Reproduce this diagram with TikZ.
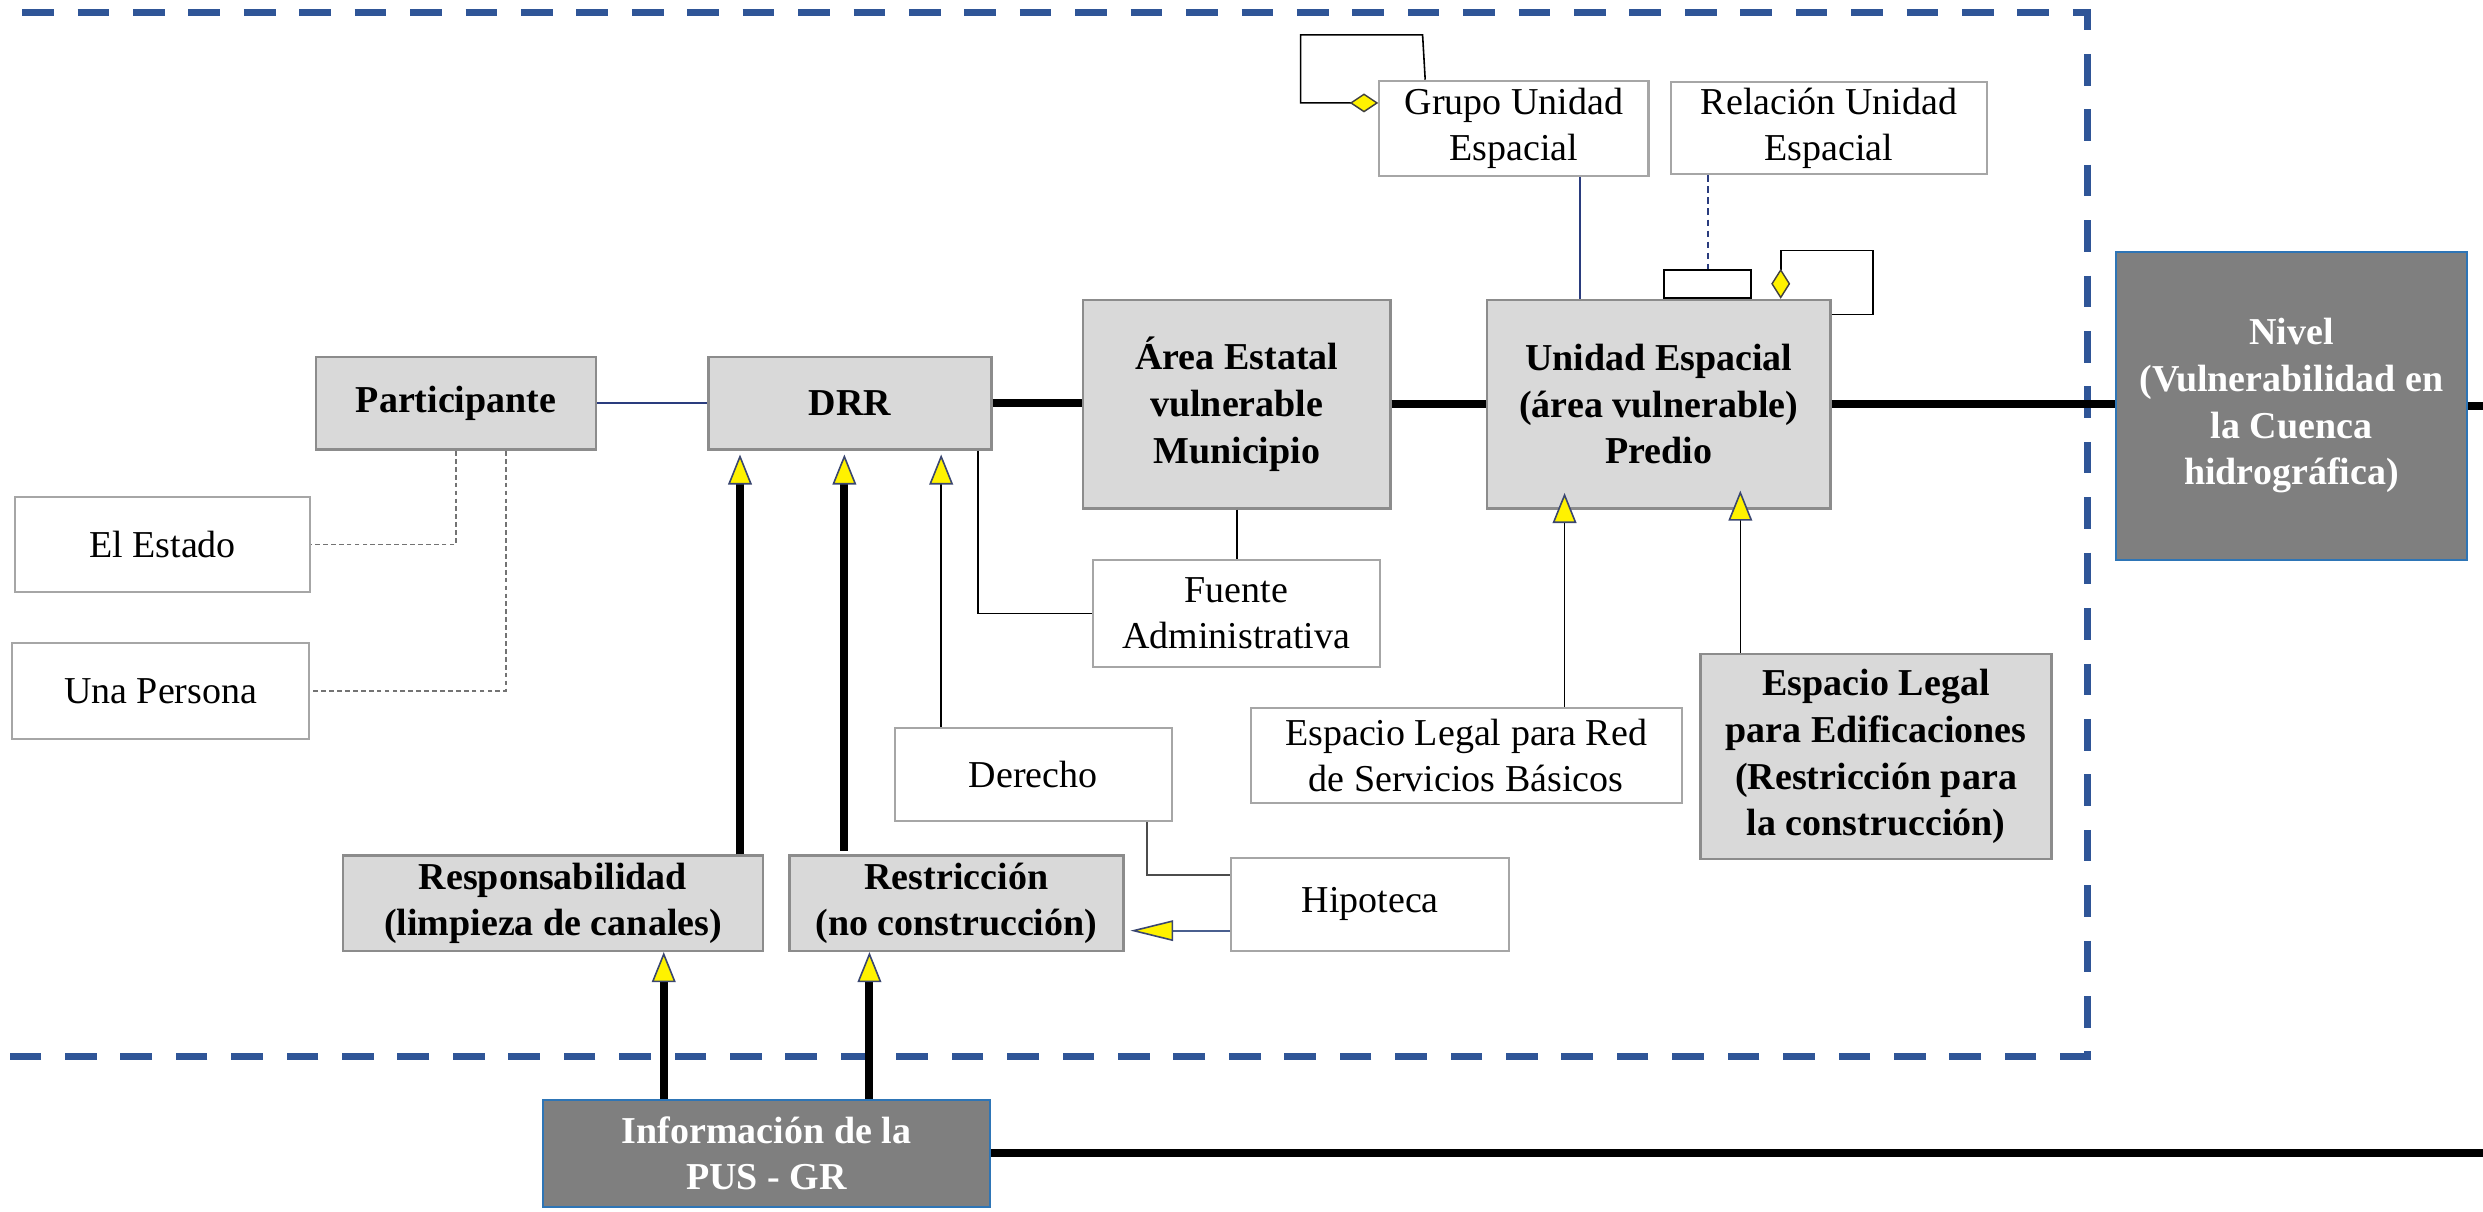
\documentclass[tikz,border=0pt]{standalone}
\usepackage{fontspec}
\setmainfont{Liberation Serif}
\usetikzlibrary{arrows.meta}
\definecolor{bordblue}{HTML}{2F5597}
\definecolor{boxgray}{HTML}{D9D9D9}
\definecolor{boxedge}{HTML}{8C8C8C}
\definecolor{whiteedge}{HTML}{A6A6A6}
\definecolor{darkfill}{HTML}{7F7F7F}
\definecolor{darkedge}{HTML}{2E75B6}
\definecolor{navyline}{HTML}{2A3C7E}
\definecolor{slateline}{HTML}{4A5F8F}
\definecolor{tricol}{HTML}{3A4670}
\begin{document}
\begin{tikzpicture}[x=1pt,y=-1pt,
  txt/.style={font=\fontsize{24}{29.5}\selectfont, align=center, inner sep=2pt},
  whitebox/.style={txt, draw=whiteedge, fill=white, line width=1.3pt},
  graybox/.style={txt, draw=boxedge, fill=boxgray, line width=1.6pt, font=\fontsize{24}{29.5}\selectfont\bfseries},
  darkbox/.style={txt, draw=darkedge, fill=darkfill, text=white, line width=1.3pt, font=\fontsize{24}{29.5}\selectfont\bfseries},
  smallbox/.style={draw=black, fill=white, line width=1.2pt, inner sep=0pt},
  thickline/.style={line width=5pt, black},
  thinblack/.style={line width=1pt, black},
  darkthin/.style={line width=1.2pt, black!70},
  bluethin/.style={line width=1.2pt, navyline},
  slatethin/.style={line width=1.4pt, slateline},
  graydash/.style={line width=1pt, black!55, dash pattern=on 3pt off 2pt},
  bordline/.style={line width=4.5pt, bordblue, dash pattern=on 20pt off 15pt},
  triarrow/.style={-{Triangle[length=19pt,width=15pt,fill=yellow,color=tricol,line width=1pt]}},
  triarrowh/.style={-{Triangle[length=27pt,width=13pt,fill=yellow,color=tricol,line width=1pt]}},
  diamtip/.style={{Diamond[length=18pt,width=12pt,fill=yellow,color=black!75,line width=0.9pt]}-},
  diamtipv/.style={{Diamond[length=19pt,width=12pt,fill=yellow,color=black!75,line width=0.9pt]}-},
]
\useasboundingbox (0,0) rectangle (1568,765);

% dashed frame
\draw[bordline] (14,8) -- (1318,8) -- (1318,667) -- (0,667);

% nodes
\node[whitebox,minimum width=170pt,minimum height=60pt] (grupo) at (956,81) {Grupo Unidad\\Espacial};
\node[whitebox,minimum width=200pt,minimum height=58pt] (rel) at (1155,81) {Relación Unidad\\Espacial};
\node[graybox,minimum width=217pt,minimum height=131.5pt] (unidad) at (1047.5,255.25) {Unidad Espacial\\(área vulnerable)\\Predio};
\node[darkbox,minimum width=222pt,minimum height=194.6pt] (nivel) at (1447,256.3) {Nivel\\(Vulnerabilidad en\\la Cuenca\\hidrográfica)};
\node[graybox,minimum width=194pt,minimum height=131.5pt] (area) at (781,255.25) {Área Estatal\\vulnerable\\Municipio};
\node[whitebox,minimum width=181.5pt,minimum height=67.4pt] (fuente) at (780.75,387.3) {Fuente\\Administrativa};
\node[graybox,minimum width=176.8pt,minimum height=58.5pt] (part) at (288,254.75) {Participante};
\node[graybox,minimum width=178.5pt,minimum height=58.5pt] (drr) at (536.75,254.75) {DRR};
\node[whitebox,minimum width=186.7pt,minimum height=60.1pt] (estado) at (102.65,343.75) {El Estado};
\node[whitebox,minimum width=187.8pt,minimum height=60.6pt] (persona) at (101.5,436.3) {Una Persona};
\node[graybox,minimum width=265pt,minimum height=60pt] (resp) at (349.2,570.4) {Responsabilidad\\(limpieza de canales)};
\node[graybox,minimum width=211pt,minimum height=60pt] (restr) at (603.9,570.4) {Restricción\\(no construcción)};
\node[whitebox,minimum width=175pt,minimum height=58.9pt] (derecho) at (652.5,489.15) {Derecho};
\node[whitebox,minimum width=175.5pt,minimum height=58.8pt] (hipoteca) at (865.25,571) {Hipoteca};
\node[darkbox,minimum width=282pt,minimum height=67.3pt] (info) at (484,728.35) {Información de la\\PUS - GR};
\node[whitebox,minimum width=272.3pt,minimum height=60pt] (redsb) at (925.85,477) {Espacio Legal para Red\\de Servicios Básicos};
\node[graybox,minimum width=221.5pt,minimum height=129.5pt] (edif) at (1184.75,477.75) {Espacio Legal\\para Edificaciones\\(Restricción para\\la construcción)};
\node[smallbox,minimum width=55pt,minimum height=17.5pt] (srect) at (1078.5,179.25) {};

\coordinate (re1) at (1568,255);
\coordinate (re2) at (1568,728.8);

% thick main chain
\draw[thickline] (drr.east) -- (drr.east -| area.west);
\draw[thickline] (area.east) -- (area.east -| unidad.west);
\draw[thickline] (unidad.east) -- (unidad.east -| nivel.west);
\draw[thickline] (nivel.east) -- (nivel.east -| re1);
\draw[thickline] (info.east) -- (info.east -| re2);

% participante
\draw[bluethin] (part.east) -- (drr.west);
\draw[graydash] (part.south) |- (estado.east);
\draw[graydash] ([xshift=31.4pt]part.south) |- (persona.east);

% fuente
\draw[thinblack] ([xshift=-9.3pt]drr.south east) |- (fuente.west);
\draw[thinblack] (area.south) -- (area.south |- fuente.north);

% arrows into DRR
\coordinate (c1) at ([xshift=-15.2pt]resp.north east);
\coordinate (c2) at ([xshift=35.6pt]restr.north west);
\coordinate (c3) at ([xshift=30pt]derecho.north west);
\draw[thickline,triarrow,shorten >=2.2pt] (c1) -- (c1 |- drr.south);
\draw[thickline,triarrow,shorten >=2.2pt,shorten <=2.4pt] (c2) -- (c2 |- drr.south);
\draw[thinblack,triarrow,shorten >=2.2pt] (c3) -- (c3 |- drr.south);

% arrows from info
\coordinate (c4) at ([xshift=76.8pt]info.north west);
\coordinate (c5) at ([xshift=206.7pt]info.north west);
\draw[thickline,triarrow] (c4) -- (c4 |- resp.south);
\draw[thickline,triarrow] (c5) -- (c5 |- restr.south);

% arrows into unidad
\coordinate (c6) at ([xshift=62.15pt]redsb.north);
\coordinate (c7) at ([xshift=-85.75pt]edif.north);
\draw[thinblack,triarrow,shorten >=-10.5pt] (c6) -- (c6 |- unidad.south);
\draw[thinblack,triarrow,shorten >=-12pt] (c7) -- (c7 |- unidad.south);

% derecho / hipoteca
\coordinate (c8) at ([yshift=-16.7pt]hipoteca.west);
\draw[slatethin,triarrowh,shorten >=3.6pt] (c8) -- (c8 -| restr.east);
\coordinate (c9) at ([xshift=-16.4pt]derecho.south east);
\draw[darkthin] (c9) |- ([yshift=18.4pt]hipoteca.west);

% grupo / relacion
\coordinate (c10) at ([xshift=42pt]grupo.south);
\draw[bluethin] (c10) -- (c10 |- unidad.north);
\draw[bluethin,dash pattern=on 4pt off 3pt] (srect.north |- rel.south) -- (srect.north);

% self loops
\draw[thinblack,diamtip] ([yshift=16pt]grupo.west) -- ++(-49pt,0) -- ++(0,43pt) -- ++(77pt,0) -- ([xshift=-56pt]grupo.north);
\draw[thinblack,diamtipv] ([xshift=77pt]unidad.north) -- ++(0,30.5pt) -| ([xshift=26pt,yshift=56.75pt]unidad.east) -- ([yshift=56.75pt]unidad.east);
\end{tikzpicture}
\end{document}
